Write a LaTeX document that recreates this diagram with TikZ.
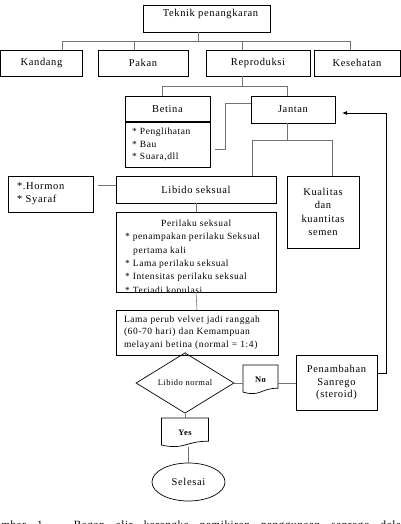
\documentclass[tikz,border=0pt]{standalone}
\usepackage{fontspec}
\setmainfont{Liberation Serif}[LetterSpace=6]
\usetikzlibrary{calc, shapes, arrows.meta, positioning}
\tikzset{>=latex}
\newcommand{\docoutline}[1]{%
  \draw[line width=0.7pt] (#1.north west) -- (#1.north east)
    -- ($(#1.south east)!0.2!(#1.north east)$)
    .. controls ($(#1.south)!0.2!(#1.north)$) and ($(#1.south)!-0.107!(#1.north)$)
    .. ($(#1.south west)!0.066!(#1.north west)$) -- cycle;}

\begin{document}
\begin{tikzpicture}[x=1pt, y=-1pt,
  box/.style={draw, line width=0.8pt, inner sep=0pt, outer sep=0pt, font=\fontsize{10.5}{13}\selectfont},
  small/.style={font=\fontsize{9.5}{12.5}\selectfont},
  link/.style={draw=black!55, line width=0.6pt},
  doc/.style={inner sep=0pt, outer sep=0pt, minimum height=29pt, font=\fontsize{8.5}{10}\selectfont\bfseries}]
\useasboundingbox (0,0) rectangle (401,524);

\node[box, minimum width=127pt, minimum height=27pt,
  label={[anchor=north, xshift=4pt, yshift=-1pt, font=\fontsize{10.5}{13}\selectfont]north:Teknik penangkaran}] (teknik) at (206.5,18.5) {};
\node[box, minimum width=82pt, minimum height=26pt] (kandang) at (41.5,63) {Kandang};
\node[box, minimum width=90pt, minimum height=26pt] (pakan) at (143,63) {Pakan};
\node[box, minimum width=104pt, minimum height=26pt] (repro) at (258,63) {Reproduksi};
\node[box, minimum width=86pt, minimum height=26pt] (sehat) at (357,63) {Kesehatan};

\node[box, minimum width=85pt, minimum height=26pt] (betina) at (167.5,109) {Betina};
\node[box, small, minimum width=85pt, minimum height=45pt, text width=71pt, align=left, anchor=north] (indra) at (betina.south) {* Penglihatan\\{}* Bau\\{}* Suara,dll};
\draw[line width=1.6pt] (betina.south west) -- (betina.south east);
\node[box, minimum width=84pt, minimum height=27pt] (jantan) at (293,109.5) {Jantan};

\node[box, minimum width=85pt, minimum height=36pt, text width=67pt, align=left] (hormon) at (50.5,194) {*.Hormon\\{}* Syaraf};
\node[box, minimum width=160pt, minimum height=27pt] (libido) at (196,189.5) {Libido seksual};
\node[box, minimum width=72pt, minimum height=72pt, align=center, font=\fontsize{10.5}{13.5}\selectfont] (kualitas) at (323,212) {Kualitas\\dan\\kuantitas\\semen};

\node[box, minimum width=160pt, minimum height=80pt] (perilaku) at (196,252) {};
\begin{scope}
  \clip (perilaku.north west) rectangle (perilaku.south east);
  \node[font=\fontsize{9.5}{13.4}\selectfont, anchor=north west, inner sep=0pt, align=left] (perilakutxt) at ([xshift=9pt,yshift=-7.5pt]perilaku.north west)
    {\makebox[142pt]{Perilaku seksual}\\{}* penampakan perilaku Seksual\\\hspace*{8pt}pertama kali\\{}* Lama perilaku seksual\\{}* Intensitas perilaku seksual\\{}* Terjadi kopulasi};
\end{scope}

\node[box, small, minimum width=162pt, minimum height=45pt, text width=146pt, align=left] (lama) at (197,332.5)
  {Lama perub velvet jadi ranggah\\(60-70 hari) dan Kemampuan\\melayani betina (normal = 1:4)};
\node[diamond, draw, line width=0.7pt, minimum width=98pt, minimum height=36pt, inner sep=0pt, font=\fontsize{8.5}{10}\selectfont] (cek) at (185,383) {Libido normal};
\node[doc, minimum width=35pt] (no) at (260.5,379.5) {No};
\docoutline{no}
\node[box, minimum width=81pt, minimum height=55pt, align=center, font=\fontsize{10.5}{12.5}\selectfont] (tambah) at (336.5,382.5) {Penambahan\\Sanrego\\(steroid)};
\node[doc, minimum width=47pt] (yes) at (185,432.5) {Yes};
\docoutline{yes}
\node[ellipse, draw, line width=0.7pt, minimum width=73pt, minimum height=38pt, font=\fontsize{10.5}{13}\selectfont] (selesai) at (188.5,482) {Selesai};

\node[anchor=north west, inner sep=0pt, font=\fontsize{11}{13}\selectfont] (judul) at (-13,520.5)
  {\makebox[423pt][s]{Gambar 1. Bagan alir kerangka pemikiran penggunaan sanrego dalam}};

\draw[link] (teknik.south -| 198,0) -- (198,41);
\draw[link] (kandang.north -| 62,0) -- (62,41) -- (350,41) -- (sehat.north -| 350,0);
\draw[link] (pakan.north -| 134,0) -- (134,41);
\draw[link] (repro.north -| 242,0) -- (242,41);
\draw[link] (repro.south -| 242,0) -- (242,86);
\draw[link] (betina.north -| 162,0) -- (162,86) -- (287,86) -- (jantan.north -| 287,0);
\draw[link] ([yshift=6.5pt]jantan.west) -| (225,149) -- ([xshift=5pt]indra.east |- 0,149);
\draw[link] (jantan.south -| 287,0) -- (287,140);
\draw[link] (libido.north -| 252,0) -- (252,140) -- (332,140) -- (kualitas.north -| 332,0);
\draw[link] ([xshift=5pt]hormon.east |- 0,185) -- (libido.west |- 0,185);
\draw[link] (libido.south) -- (perilaku.north);
\draw[link] (perilaku.south) -- (lama.north);
\draw[link] (lama.south -| cek.north) -- (cek.north);
\draw[link] (cek.east) -- (no.west |- cek.east);
\draw[link] (no.east |- cek.east) -- (tambah.west |- cek.east);
\draw[link] (cek.south) -- (yes.north);
\draw[link] (yes.south -| selesai.north) -- (selesai.north);
\draw[-{Latex[length=5pt,width=4pt]}, line width=0.8pt] ([yshift=9.5pt]tambah.east) -| ([xshift=51pt,yshift=-3.5pt]jantan.east) -- ([xshift=7pt,yshift=-3.5pt]jantan.east);
\end{tikzpicture}
\end{document}
